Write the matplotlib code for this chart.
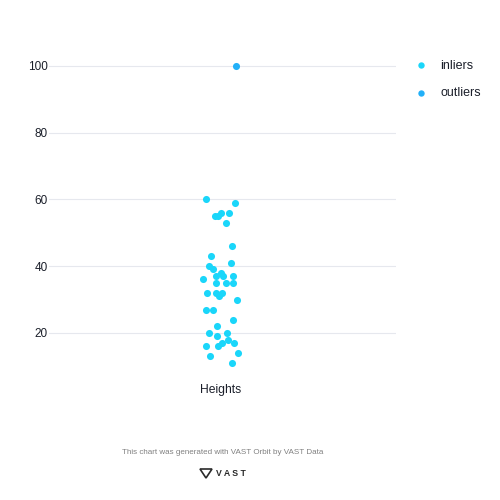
#!/usr/bin/env python3

import matplotlib
matplotlib.use("Agg")
import matplotlib.pyplot as plt
from matplotlib.patches import Polygon

# Data
category = "Heights"
inlier_values = [60, 59, 55, 55, 56, 56, 53, 46, 43, 41, 40, 39, 38, 36, 37, 37, 37,
                 35, 35, 35, 32, 32, 32, 31, 30, 27, 27, 24, 22, 20, 20, 19, 18, 17,
                 17, 16, 16, 14, 13, 11]
# horizontal jitter of each point (category units)
inlier_jitter = [-0.043, 0.041, -0.017, -0.009, 0.001, 0.023, 0.014, 0.030, -0.030,
                 0.029, -0.035, -0.023, 0.001, -0.051, -0.016, 0.006, 0.035, -0.015,
                 0.014, 0.035, -0.041, -0.014, 0.004, -0.007, 0.046, -0.043, -0.024,
                 0.035, -0.011, -0.035, 0.018, -0.012, 0.021, 0.004, 0.037, -0.008,
                 -0.043, 0.049, -0.032, 0.032]
outlier_values = [100]
outlier_jitter = [0.043]
yticks = [20, 40, 60, 80, 100]

inlier_color = "#1ad6fa"
outlier_color = "#22b0f8"

plt.rcParams['font.family'] = ['Liberation Sans', 'DejaVu Sans']

fig = plt.figure(figsize=(5, 5), dpi=100)
ax = fig.add_axes([0.098, 0.234, 0.694, 0.668])

ax.scatter(inlier_jitter, inlier_values, s=26, color=inlier_color,
           linewidths=0, zorder=3, label="inliers")
ax.scatter(outlier_jitter, outlier_values, s=26, color=outlier_color,
           linewidths=0, zorder=3, label="outliers")

ax.set_xlim(-0.496, 0.504)
ax.set_ylim(5, 105)
ax.set_xticks([0])
ax.set_xticklabels([category], fontsize=8.7, color="#1b1f2a")
ax.set_yticks(yticks)
ax.set_yticklabels([str(t) for t in yticks], fontsize=8.5, color="#1b1f2a")
ax.tick_params(axis='x', length=0, pad=1)
ax.tick_params(axis='y', length=0, pad=1)
ax.grid(axis='y', color="#e6e8ee", linewidth=0.8, zorder=0)
for s in ax.spines.values():
    s.set_visible(False)

ax.legend(loc="upper left", bbox_to_anchor=(1.005, 1.002), frameon=False,
          fontsize=9, handletextpad=0.5, labelspacing=1.25, markerscale=0.9,
          labelcolor="#1b1f2a")

# footer
fig.text(0.446, 0.094, "This chart was generated with VAST Orbit by VAST Data",
         ha="center", va="center", fontsize=5.8, color="#808080")
logo = Polygon([[0.400, 0.062], [0.424, 0.062], [0.412, 0.044]], closed=True,
               fill=False, edgecolor="#2a2a2a", linewidth=1.2,
               transform=fig.transFigure)
fig.patches.append(logo)
fig.text(0.462, 0.054, "V A S T", ha="center", va="center", fontsize=6.3,
         color="#2a2a2a", fontweight="bold")

fig.savefig("out.png", dpi=100)
